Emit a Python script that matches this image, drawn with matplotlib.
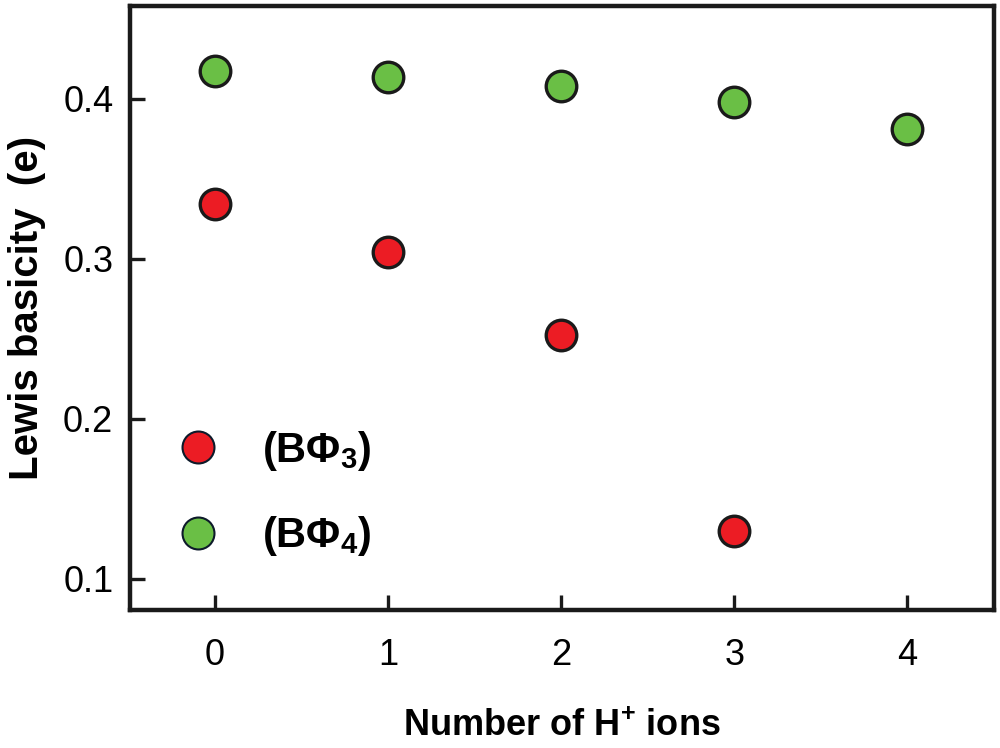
import matplotlib
matplotlib.use("Agg")
import matplotlib.pyplot as plt
from matplotlib import font_manager as fm
from matplotlib.lines import Line2D

names = {f.name for f in fm.fontManager.ttflist}
fam = 'Liberation Sans Narrow' if 'Liberation Sans Narrow' in names else 'Liberation Sans'
plt.rcParams['font.family'] = [fam, 'DejaVu Sans']
plt.rcParams['mathtext.fontset'] = 'custom'
plt.rcParams['mathtext.rm'] = fam + ':bold'
plt.rcParams['mathtext.it'] = fam + ':bold:italic'
plt.rcParams['mathtext.bf'] = fam + ':bold'
plt.rcParams['mathtext.default'] = 'rm'

# Data
n_ions = [0, 1, 2, 3, 4]
b_phi4 = [0.4175, 0.4138, 0.408, 0.398, 0.381]
n_ions_b3 = [0, 1, 2, 3]
b_phi3 = [0.334, 0.304, 0.2525, 0.130]
xticks = [0, 1, 2, 3, 4]
yticks = [0.1, 0.2, 0.3, 0.4]

red = '#ec1c24'
green = '#6abf45'

fig = plt.figure(figsize=(10, 7.48), dpi=100)
ax = fig.add_axes([0.130, 0.1845, 0.864, 0.8075])

ax.plot(n_ions, b_phi4, 'o', ms=22, mfc=green, mec='#1a1a1a', mew=2.4, ls='none', clip_on=False)
ax.plot(n_ions_b3, b_phi3, 'o', ms=22, mfc=red, mec='#1a1a1a', mew=2.4, ls='none', clip_on=False)

ax.set_xlim(-0.49, 4.5)
ax.set_ylim(0.0806, 0.458)
ax.set_xticks(xticks)
ax.set_xticklabels([str(v) for v in xticks])
ax.set_yticks(yticks)
ax.set_yticklabels([f'{v:.1f}' for v in yticks])

for s in ax.spines.values():
    s.set_linewidth(3.2)
    s.set_color('#1a1a1a')
ax.tick_params(direction='in', length=11, width=2.4, color='#1a1a1a', labelsize=26, pad=20)
ax.tick_params(axis='y', pad=12)

ax.set_xlabel('Number of H$^{+}$ ions', fontsize=26, fontweight='bold', labelpad=26)
ax.set_ylabel('Lewis basicity  (e)', fontsize=29, fontweight='bold', labelpad=12)

handles = [
    Line2D([], [], marker='o', ls='none', ms=23, mfc=red, mec='#0d1a2a', mew=1.5),
    Line2D([], [], marker='o', ls='none', ms=23, mfc=green, mec='#0d1a2a', mew=1.5),
]
labels = ['(B\u03A6$_{3}$)', '(B\u03A6$_{4}$)']
leg = ax.legend(handles, labels, loc='upper left', bbox_to_anchor=(0.035, 0.328),
                frameon=False, prop={'family': fam, 'weight': 'bold', 'size': 30},
                labelspacing=1.0, handletextpad=1.05, handlelength=1.0, borderaxespad=0)

fig.savefig('out.png', dpi=100)
